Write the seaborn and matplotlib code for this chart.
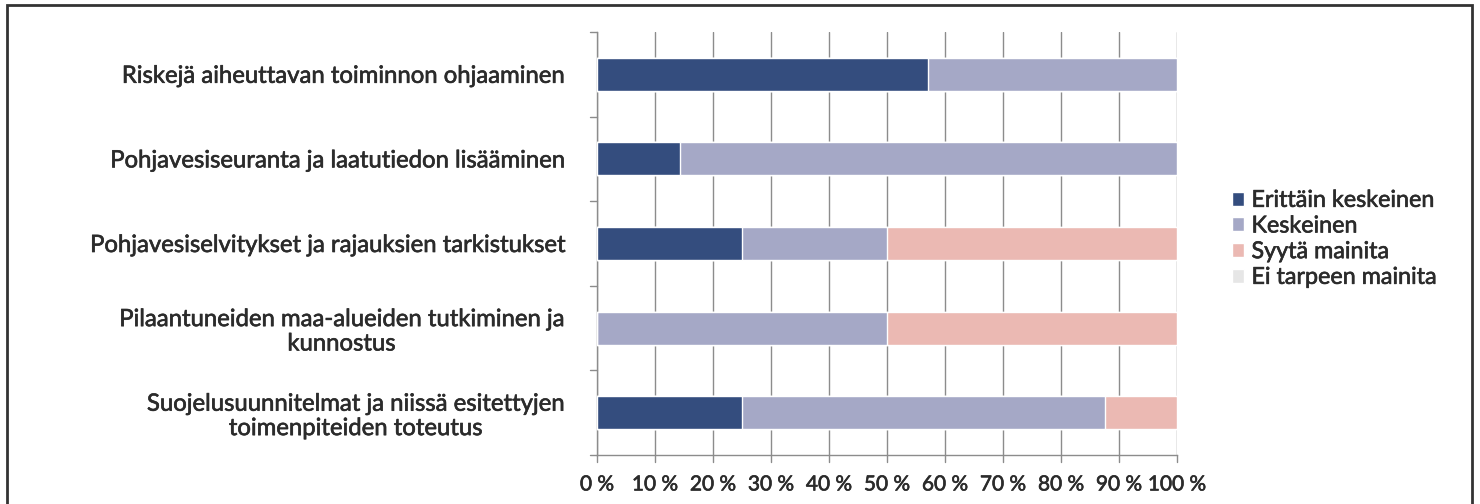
import numpy as np
import pandas as pd
import matplotlib
matplotlib.use("Agg")
import matplotlib.pyplot as plt
import matplotlib.patheffects as pe
from matplotlib.patches import Rectangle
import seaborn as sns

categories = [
    "Riskejä aiheuttavan toiminnon ohjaaminen",
    "Pohjavesiseuranta ja laatutiedon lisääminen",
    "Pohjavesiselvitykset ja rajauksien tarkistukset",
    "Pilaantuneiden maa-alueiden tutkiminen ja\nkunnostus",
    "Suojelusuunnitelmat ja niissä esitettyjen\ntoimenpiteiden toteutus",
]
series_names = ["Erittäin keskeinen", "Keskeinen", "Syytä mainita", "Ei tarpeen mainita"]
erittain = [57.1, 14.3, 25.0, 0.0, 25.0]
keskeinen = [42.9, 85.7, 25.0, 50.0, 62.5]
syyta = [0.0, 0.0, 50.0, 50.0, 12.5]
ei_tarpeen = [0.0, 0.0, 0.0, 0.0, 0.0]
colors = ["#344d7e", "#a5a8c6", "#ebb9b3", "#e6e6e6"]
xtick_labels = ["0 %", "10 %", "20 %", "30 %", "40 %", "50 %", "60 %", "70 %", "80 %", "90 %", "100 %"]

sns.set_style("white")
plt.rcParams["font.family"] = ["Lato", "DejaVu Sans"]
txt_color = "#2b2b2b"
# regular Lato with a thin outline, to get Calibri-like medium weight
heavy = [pe.withStroke(linewidth=0.45, foreground=txt_color)]

df = pd.DataFrame({"cat": categories, series_names[0]: erittain, series_names[1]: keskeinen,
                   series_names[2]: syyta, series_names[3]: ei_tarpeen})
cum = df[series_names].cumsum(axis=1)

fig = plt.figure(figsize=(14.8, 5.04), dpi=100)
ax = fig.add_axes([0.4034, 0.0972, 0.3919, 0.8393])

# stacked bars: draw cumulative totals from the last series back to the first
for name, col in reversed(list(zip(series_names, colors))):
    sns.barplot(x=cum[name], y=df["cat"], color=col, width=0.39, ax=ax,
                orient="h", saturation=1, label=name, zorder=3)
handles, labels = ax.get_legend_handles_labels()
if ax.get_legend() is not None:
    ax.get_legend().remove()

ax.set_xlim(0, 100)
ax.set_ylim(4.5, -0.5)
ax.set_xticks(np.arange(0, 101, 10))
ax.set_xticklabels(xtick_labels, fontsize=15, color=txt_color)
ax.set_yticks(np.arange(5))
ax.set_yticklabels(categories, fontsize=17.2, color=txt_color,
                   multialignment="center", linespacing=1.2)
for t in ax.get_xticklabels() + ax.get_yticklabels():
    t.set_path_effects(heavy)
ax.tick_params(axis="y", length=0, pad=24)
ax.tick_params(axis="x", length=0, pad=14)
ax.set_xlabel("")
ax.set_ylabel("")
ax.grid(axis="x", color="#8c8c8c", linewidth=1.0, zorder=0)
ax.set_axisbelow(True)
for s in ["top", "right"]:
    ax.spines[s].set_visible(False)
for s in ["left", "bottom"]:
    ax.spines[s].set_color("#8c8c8c")
    ax.spines[s].set_linewidth(1.0)

# Excel style small ticks at category boundaries and at x gridlines
for b in np.arange(-0.5, 5.0, 1.0):
    ax.plot([-1.2, 0], [b, b], color="#8c8c8c", lw=1.0, clip_on=False)
for xv in np.arange(0, 101, 10):
    ax.plot([xv, xv], [4.5, 4.58], color="#8c8c8c", lw=1.0, clip_on=False)

order = [labels.index(n) for n in series_names]
leg = fig.legend([handles[i] for i in order], series_names, loc="upper left",
                 bbox_to_anchor=(0.818, 0.665), frameon=False,
                 handlelength=0.55, handleheight=0.55, handletextpad=0.3, labelspacing=0.2,
                 prop={"size": 16.8})
for t in leg.get_texts():
    t.set_color(txt_color)
    t.set_path_effects(heavy)

fig.patches.append(Rectangle((0.0047, -0.05), 0.99, 1.04, transform=fig.transFigure,
                             fill=False, edgecolor="#333333", linewidth=2))

fig.savefig("out.png", dpi=100)
